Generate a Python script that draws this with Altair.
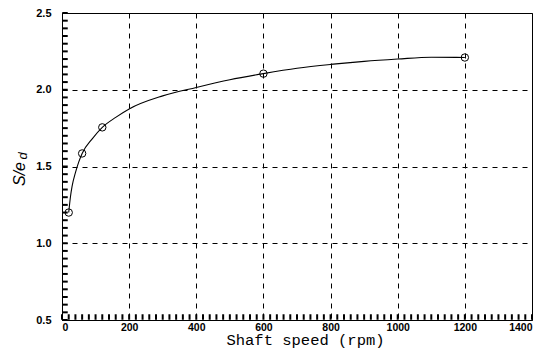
import altair as alt
import pandas as pd

# measured points
speed = [20, 60, 120, 600, 1200]
ratio = [1.2, 1.585, 1.755, 2.105, 2.21]

# fitted curve
curve_speed = [20, 25, 30, 40, 50, 60, 90, 120, 160, 200, 300, 400, 500,
               600, 700, 800, 900, 1000, 1100, 1200]
curve_ratio = [1.2, 1.30, 1.37, 1.46, 1.53, 1.585, 1.68, 1.755, 1.82, 1.875,
               1.96, 2.015, 2.065, 2.105, 2.14, 2.165, 2.185, 2.2, 2.212, 2.21]

x_major = [0, 200, 400, 600, 800, 1000, 1200, 1400]
x_minor = [0, 20, 40, 60, 80, 100, 120, 140, 160, 180, 200, 220, 240, 260, 280,
           300, 320, 340, 360, 380, 400, 420, 440, 460, 480, 500, 520, 540, 560,
           580, 600, 620, 640, 660, 680, 700, 720, 740, 760, 780, 800, 820, 840,
           860, 880, 900, 920, 940, 960, 980, 1000, 1020, 1040, 1060, 1080, 1100,
           1120, 1140, 1160, 1180, 1200, 1220, 1240, 1260, 1280, 1300, 1320,
           1340, 1360, 1380, 1400]
y_major = [0.5, 1.0, 1.5, 2.0, 2.5]
y_minor = [0.5, 0.55, 0.6, 0.65, 0.7, 0.75, 0.8, 0.85, 0.9, 0.95, 1.0, 1.05,
           1.1, 1.15, 1.2, 1.25, 1.3, 1.35, 1.4, 1.45, 1.5, 1.55, 1.6, 1.65,
           1.7, 1.75, 1.8, 1.85, 1.9, 1.95, 2.0, 2.05, 2.1, 2.15, 2.2, 2.25,
           2.3, 2.35, 2.4, 2.45, 2.5]

x_title = "Shaft speed (rpm)"
y_title_main = "S/e"
y_title_sub = "d"

W, H = 470, 307

rows = []
for s, r in zip(curve_speed, curve_ratio):
    rows.append({"kind": "curve", "speed": s, "ratio": r})
for s, r in zip(speed, ratio):
    rows.append({"kind": "point", "speed": s, "ratio": r})
for s in x_minor:
    rows.append({"kind": "xtick", "speed": s, "ratio": 0.5})
for r in y_minor:
    rows.append({"kind": "ytick", "speed": 0, "ratio": r})
df = pd.DataFrame(rows)

xs = alt.Scale(domain=[0, 1400], nice=False, zero=False)
ys = alt.Scale(domain=[0.5, 2.5], nice=False, zero=False)

label_font = "Liberation Sans"

x_axis_main = alt.Axis(
    orient="bottom", values=x_major, format="d", grid=True,
    gridColor="black", gridDash=[5, 5], gridWidth=1, gridOpacity=1,
    ticks=False, domain=True, domainColor="black", domainWidth=1,
    labelFont=label_font, labelFontWeight="bold", labelFontSize=10.5,
    labelColor="black", labelPadding=2,
    title=x_title, titleFont="Liberation Mono", titleFontSize=15.5,
    titleFontWeight="normal", titleColor="black",
    titleBaseline="alphabetic", titleY=24, titleX=243, titleAlign="center",
)
y_axis_main = alt.Axis(
    orient="left", values=y_major, format=".1f", grid=True,
    gridColor="black", gridDash=[5, 5], gridWidth=1, gridOpacity=1,
    ticks=False, domain=True, domainColor="black", domainWidth=1,
    labelFont=label_font, labelFontWeight="bold", labelFontSize=11,
    labelColor="black", labelPadding=11, title=None,
)

base = alt.Chart(df)

line = base.transform_filter(alt.datum.kind == "curve").mark_line(
    color="black", strokeWidth=1.1, interpolate="monotone"
).encode(
    x=alt.X("speed:Q", scale=xs, axis=x_axis_main),
    y=alt.Y("ratio:Q", scale=ys, axis=y_axis_main),
)

points = base.transform_filter(alt.datum.kind == "point").mark_point(
    shape="circle", size=55, color="black", filled=False, strokeWidth=1, opacity=1
).encode(
    x=alt.X("speed:Q", scale=xs),
    y=alt.Y("ratio:Q", scale=ys),
)

x_ticks = base.transform_filter(alt.datum.kind == "xtick").mark_point(
    shape="stroke", size=30, angle=90, color="black", filled=False,
    strokeWidth=2, opacity=1, yOffset=-3,
).encode(
    x=alt.X("speed:Q", scale=xs),
    y=alt.Y("ratio:Q", scale=ys),
)

y_ticks = base.transform_filter(alt.datum.kind == "ytick").mark_point(
    shape="stroke", size=30, color="black", filled=False,
    strokeWidth=2, opacity=1, xOffset=3,
).encode(
    x=alt.X("speed:Q", scale=xs),
    y=alt.Y("ratio:Q", scale=ys),
)

title_main = alt.Chart(pd.DataFrame({"t": [y_title_main]})).mark_text(
    angle=270, font="Liberation Sans", fontStyle="italic", fontSize=16,
    color="black", align="center", baseline="alphabetic",
).encode(text="t:N", x=alt.value(-37), y=alt.value(161))

title_sub = alt.Chart(pd.DataFrame({"t": [y_title_sub]})).mark_text(
    angle=270, font="Liberation Sans", fontStyle="italic", fontSize=13,
    color="black", align="center", baseline="alphabetic",
).encode(text="t:N", x=alt.value(-35), y=alt.value(143))

chart = alt.layer(line, points, x_ticks, y_ticks, title_main, title_sub).properties(
    width=W, height=H,
    autosize=alt.AutoSizeParams(type="none"),
    padding={"left": 54, "top": 5, "right": 9, "bottom": 28},
).configure_view(stroke="black", strokeWidth=1)

chart.save("out.html", embed_options={"renderer": "svg", "actions": False})
